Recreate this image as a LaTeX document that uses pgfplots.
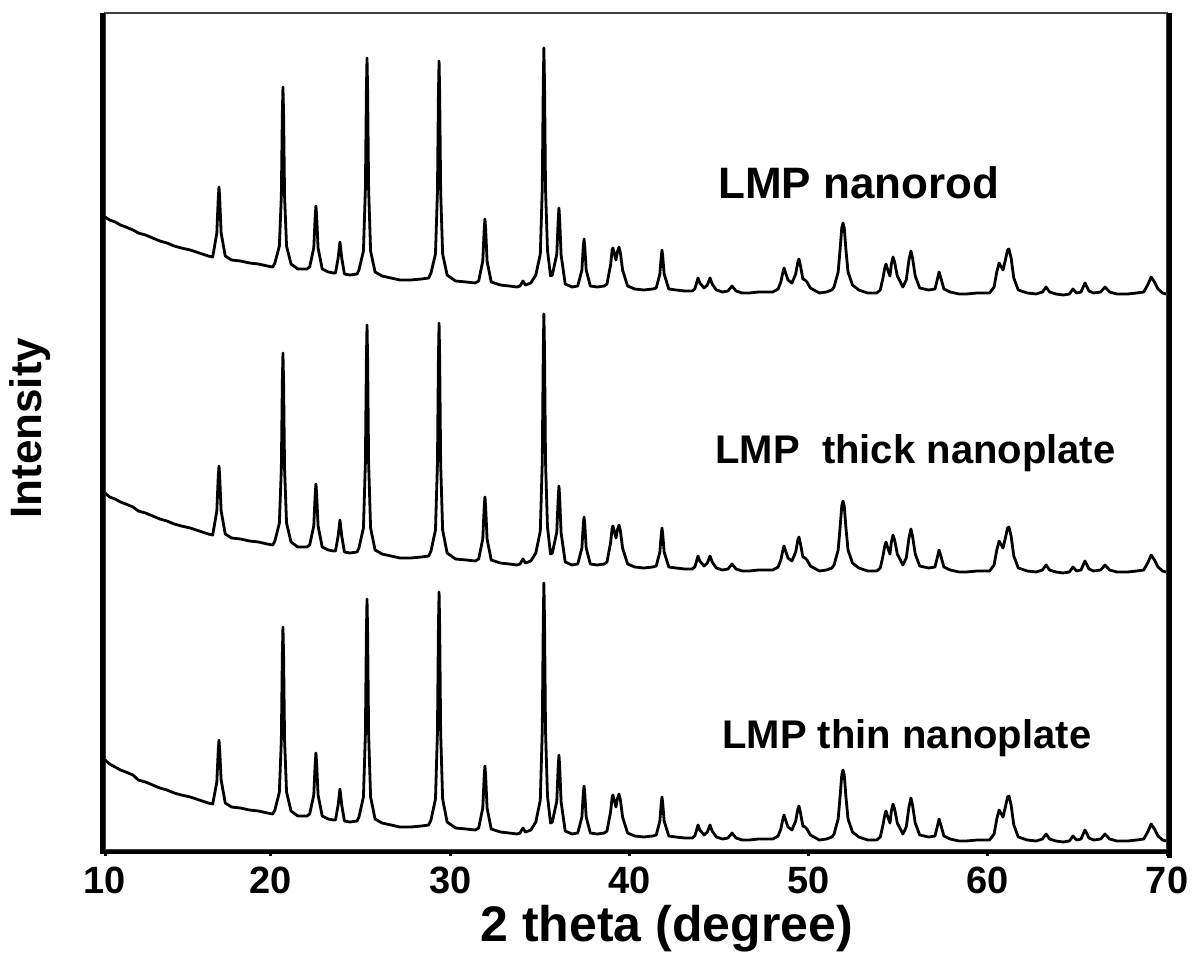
\documentclass[border=0pt]{standalone}
\usepackage{pgfplots}
\usepackage{pgfplotstable}
\pgfplotsset{compat=1.18}
\usepackage{fontspec}
\setmainfont{Liberation Sans}

% x = 2 theta; a = LMP nanorod, b = thick nanoplate, c = thin nanoplate (stacked, arbitrary units)
\pgfplotstableread{
x a b c
10.74 633 357 90
11.0 630 353 86
11.3 628 351 83
11.6 625 348 80
11.9 623 346 78
12.3 620 343 75
12.6 617 339 70
13.0 615 337 68
13.4 612 334 65
13.8 609 331 62
14.2 607 329 60
14.6 604 326 57
15.0 602 324 55
15.5 600 322 53
16.0 597 319 50
16.5 594 316 47
16.75 593 315 46
16.98 617 339 68
17.06 652 374 100
17.10 663 384 110
17.14 652 374 100
17.22 617 339 70
17.45 594 316 47
17.8 590 312 43
18.3 589 311 42
18.8 587 309 40
19.3 586 308 39
19.8 584 306 37
20.1 583 305 36
20.22 587 309 40
20.47 604 327 58
20.58 654 381 110
20.635 736 468 195
20.67 763 497 223
20.705 736 468 195
20.76 654 381 110
20.87 604 327 58
21.12 586 308 39
21.5 581 303 34
22.0 581 303 34
22.16 583 305 36
22.39 602 324 55
22.47 634 356 87
22.51 644 366 97
22.55 634 356 87
22.63 602 324 55
22.86 581 303 34
23.2 578 300 31
23.5 577 299 30
23.6 577 299 30
23.75 592 314 45
23.85 608 330 61
23.95 592 314 45
24.1 576 298 29
24.4 575 297 28
24.8 576 298 29
24.91 580 302 33
25.16 599 322 53
25.27 661 387 116
25.325 759 490 217
25.36 792 525 251
25.395 759 490 217
25.45 661 387 116
25.56 599 322 53
25.81 578 300 31
26.2 574 296 27
26.7 572 294 25
27.2 570 292 23
27.8 570 292 23
28.4 571 293 24
28.8 572 294 25
28.93 577 299 30
29.18 596 320 51
29.29 658 386 117
29.345 756 492 223
29.38 789 527 258
29.415 756 492 223
29.47 658 386 117
29.58 596 320 51
29.83 575 297 28
30.3 569 291 22
30.9 568 290 21
31.4 567 289 20
31.59 569 291 22
31.82 589 311 42
31.90 621 343 74
31.94 631 353 84
31.98 621 343 74
32.06 589 311 42
32.29 568 290 21
32.8 565 287 18
33.3 564 286 17
33.73 563 285 16
33.9 564 286 17
34.06 569 291 22
34.2 565 287 18
34.5 567 289 20
34.78 575 297 28
35.03 596 319 50
35.14 662 389 120
35.195 767 499 230
35.23 802 536 267
35.265 767 499 230
35.32 662 389 120
35.43 600 323 54
35.6 574 296 27
35.7 575 297 28
35.95 596 318 49
36.03 631 353 84
36.07 642 364 95
36.11 631 353 84
36.19 595 317 48
36.42 566 288 19
36.8 563 285 16
37.12 564 286 17
37.35 580 302 33
37.43 604 326 57
37.47 611 333 64
37.51 604 326 57
37.59 580 302 33
37.82 564 286 17
38.2 563 285 16
38.6 564 286 17
38.75 566 288 19
38.95 585 307 38
39.04 600 322 53
39.08 602 324 55
39.17 596 318 49
39.25 590 312 43
39.33 598 320 51
39.42 603 325 56
39.50 597 319 50
39.62 580 302 33
39.9 564 286 17
40.3 561 283 14
40.8 560 282 13
41.3 561 283 14
41.5 562 284 15
41.7 576 298 29
41.78 594 316 47
41.82 600 322 53
41.86 594 316 47
41.94 576 298 29
42.2 561 283 14
42.6 560 282 13
43.1 559 281 12
43.5 559 281 12
43.65 561 283 14
43.75 567 289 20
43.83 572 294 25
43.93 567 289 20
44.17 562 284 15
44.35 565 287 18
44.50 572 294 25
44.62 566 288 19
44.85 560 282 13
45.2 558 280 11
45.5 559 281 12
45.73 564 286 17
45.95 559 281 12
46.3 557 279 10
46.7 557 279 10
47.2 558 280 11
47.6 558 280 11
48.0 558 280 11
48.3 561 283 14
48.45 568 290 21
48.58 579 301 32
48.63 582 304 35
48.70 578 300 31
48.85 570 292 23
49.07 567 289 20
49.28 576 298 29
49.40 588 310 41
49.46 591 313 44
49.55 584 306 37
49.68 571 293 24
49.8 570 292 23
49.91 568 290 21
50.1 562 284 15
50.6 557 279 10
51.0 558 280 11
51.3 560 282 13
51.42 563 285 16
51.65 578 300 31
51.76 601 323 54
51.85 622 344 75
51.92 627 349 80
51.99 622 344 75
52.08 601 323 54
52.2 578 300 31
52.45 565 287 18
52.8 560 282 13
53.3 557 279 10
53.8 557 279 10
54.0 560 282 13
54.15 572 294 25
54.25 582 304 35
54.32 586 308 39
54.42 580 302 33
54.54 574 296 27
54.62 586 308 39
54.71 593 315 46
54.80 588 310 41
54.95 574 296 27
55.26 563 285 16
55.45 570 292 23
55.6 590 312 43
55.71 599 321 52
55.8 592 314 45
55.95 574 296 27
56.2 562 284 15
56.7 560 282 13
57.05 561 283 14
57.15 568 290 21
57.28 578 300 31
57.38 572 294 25
57.55 561 283 14
57.9 558 280 11
58.4 556 278 9
58.8 556 278 9
59.4 557 279 10
60.1 557 279 10
60.35 563 285 16
60.5 578 300 31
60.63 587 309 40
60.72 584 306 37
60.85 580 302 33
60.98 590 312 43
61.1 600 322 53
61.18 601 323 54
61.3 592 314 45
61.45 572 294 25
61.7 560 282 13
62.2 557 279 10
62.7 556 278 9
63.05 558 280 11
63.25 563 285 16
63.45 558 280 11
63.8 556 278 9
64.2 555 277 8
64.55 556 278 9
64.75 561 283 14
64.95 557 279 10
65.2 558 280 11
65.42 567 289 20
65.65 559 281 12
65.9 557 279 10
66.3 558 280 11
66.54 563 285 16
66.8 558 280 11
67.2 556 278 9
67.8 556 278 9
68.3 557 279 10
68.7 558 280 11
68.95 566 288 19
69.11 573 295 26
69.3 568 290 21
69.5 561 283 14
69.75 557 279 10
69.95 556 278 9
}\xrd

\begin{document}
\begin{tikzpicture}
\useasboundingbox (-52.5pt,-55pt) rectangle (543.5pt,425pt);
\begin{axis}[
    at={(0,0)}, anchor=south west,
    scale only axis,
    width=531pt, height=418.5pt,
    xmin=10.74, xmax=70,
    ymin=0, ymax=837,
    clip=false,
    xtick={10.74,20,30,40,50,60,70},
    xticklabels={10,20,30,40,50,60,70},
    minor xtick={15,25,35,45,55,65},
    ytick=\empty,
    xtick pos=bottom,
    tick align=outside,
    major tick length=3pt,
    minor tick length=2pt,
    tick style={black, line width=1.5pt},
    axis line style={draw=black!75, line width=0.7pt},
    xticklabel style={font=\fontsize{19}{19}\selectfont\bfseries, yshift=-2pt},
    xlabel={2 theta (degree)},
    ylabel={Intensity},
    xlabel style={font=\fontsize{25}{25}\selectfont\bfseries, at={(axis description cs:0.529,-0.0944)}, anchor=center},
    ylabel style={font=\fontsize{22}{22}\selectfont\bfseries, at={(axis description cs:-0.0706,0.504)}, anchor=center, rotate=0},
]
\addplot[black, line width=1.4pt, line join=round] table[x=x, y=a] {\xrd};
\addplot[black, line width=1.4pt, line join=round] table[x=x, y=b] {\xrd};
\addplot[black, line width=1.4pt, line join=round] table[x=x, y=c] {\xrd};

\node[anchor=west, inner sep=0pt, font=\fontsize{22}{22}\selectfont\bfseries] at (axis cs:44.94,667) {LMP nanorod};
\node[anchor=west, inner sep=0pt, font=\fontsize{20}{20}\selectfont\bfseries] at (axis cs:44.78,397) {LMP\ \ thick nanoplate};
\node[anchor=west, inner sep=0pt, font=\fontsize{20}{20}\selectfont\bfseries] at (axis cs:45.17,112) {LMP thin nanoplate};
\end{axis}
\fill[black] ([xshift=-2.6pt]current axis.south west) rectangle (current axis.north west);
\fill[black] ([xshift=-2.6pt,yshift=-1.8pt]current axis.south west) rectangle ([xshift=2.6pt]current axis.south east);
\fill[black] ([yshift=-4pt]current axis.south east) rectangle ([xshift=2.6pt]current axis.north east);
\end{tikzpicture}
\end{document}
